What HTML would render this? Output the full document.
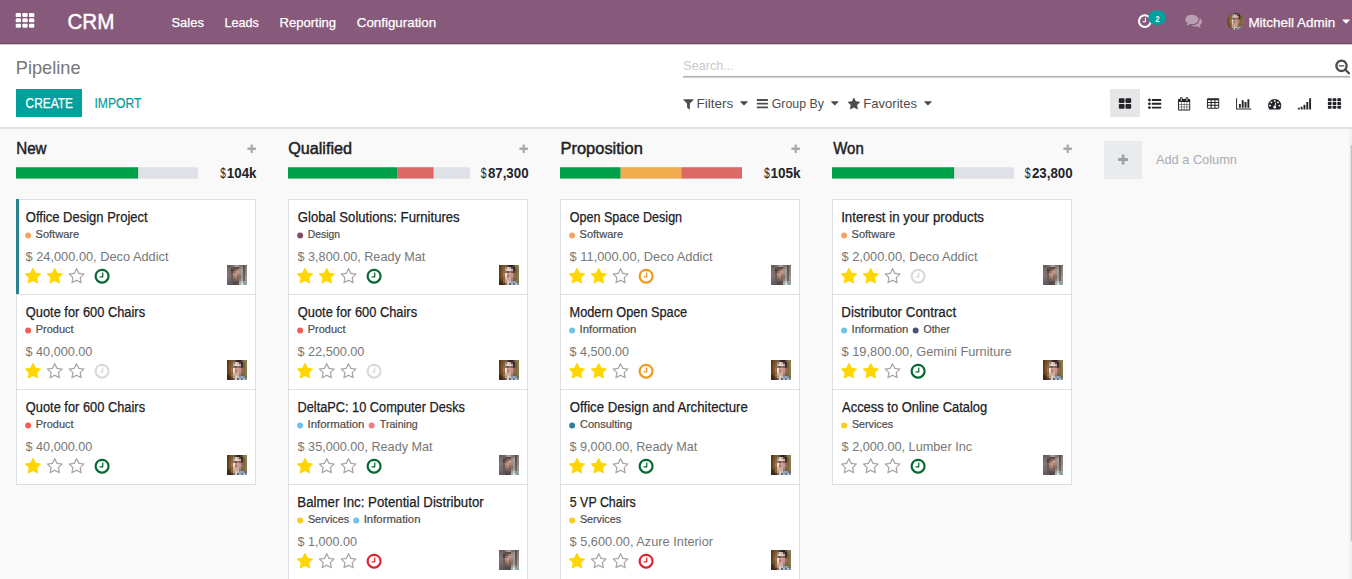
<!DOCTYPE html>
<html lang="en"><head><meta charset="utf-8"><title>Pipeline - Odoo</title>
<style>
html,body{margin:0;padding:0;background:#f9f9f9}
body{width:1352px;height:579px;overflow:hidden;position:relative;background:#f9f9f9;font-family:"Liberation Sans", sans-serif;}
.a{position:absolute;display:block}
.t{position:absolute;display:block;white-space:pre;line-height:normal;transform-origin:0 0}
.av{overflow:hidden}.av svg{position:absolute;display:block}
.card{width:240px;box-sizing:border-box;background:#fff;border:1px solid #dcdfe4}
</style></head>
<body>
<svg width="0" height="0" style="position:absolute"><defs><g id="avA"><rect x="-4" y="-4" width="28" height="28" fill="#80737a"/><rect x="-2" y="-2" width="2.05" height="2.05" fill="#6e5e5c"/><rect x="0" y="-2" width="2.05" height="2.05" fill="#6e5e5c"/><rect x="2" y="-2" width="2.05" height="2.05" fill="#6e5e5c"/><rect x="4" y="-2" width="2.05" height="2.05" fill="#6e5e5c"/><rect x="6" y="-2" width="2.05" height="2.05" fill="#8a7e7c"/><rect x="8" y="-2" width="2.05" height="2.05" fill="#a59a9a"/><rect x="10" y="-2" width="2.05" height="2.05" fill="#a59a9a"/><rect x="12" y="-2" width="2.05" height="2.05" fill="#7d7070"/><rect x="14" y="-2" width="2.05" height="2.05" fill="#7d7070"/><rect x="16" y="-2" width="2.05" height="2.05" fill="#5e5050"/><rect x="18" y="-2" width="2.05" height="2.05" fill="#7a7070"/><rect x="20" y="-2" width="2.05" height="2.05" fill="#7a7070"/><rect x="-2" y="0" width="2.05" height="2.05" fill="#6e5e5c"/><rect x="0" y="0" width="2.05" height="2.05" fill="#6e5e5c"/><rect x="2" y="0" width="2.05" height="2.05" fill="#6e5e5c"/><rect x="4" y="0" width="2.05" height="2.05" fill="#6e5e5c"/><rect x="6" y="0" width="2.05" height="2.05" fill="#8a7e7c"/><rect x="8" y="0" width="2.05" height="2.05" fill="#a59a9a"/><rect x="10" y="0" width="2.05" height="2.05" fill="#a59a9a"/><rect x="12" y="0" width="2.05" height="2.05" fill="#7d7070"/><rect x="14" y="0" width="2.05" height="2.05" fill="#7d7070"/><rect x="16" y="0" width="2.05" height="2.05" fill="#5e5050"/><rect x="18" y="0" width="2.05" height="2.05" fill="#7a7070"/><rect x="20" y="0" width="2.05" height="2.05" fill="#7a7070"/><rect x="-2" y="2" width="2.05" height="2.05" fill="#75686a"/><rect x="0" y="2" width="2.05" height="2.05" fill="#75686a"/><rect x="2" y="2" width="2.05" height="2.05" fill="#75686a"/><rect x="4" y="2" width="2.05" height="2.05" fill="#6a5a58"/><rect x="6" y="2" width="2.05" height="2.05" fill="#5d4c45"/><rect x="8" y="2" width="2.05" height="2.05" fill="#5a4a44"/><rect x="10" y="2" width="2.05" height="2.05" fill="#5d4c45"/><rect x="12" y="2" width="2.05" height="2.05" fill="#8a7e78"/><rect x="14" y="2" width="2.05" height="2.05" fill="#9a9088"/><rect x="16" y="2" width="2.05" height="2.05" fill="#5a4d4d"/><rect x="18" y="2" width="2.05" height="2.05" fill="#8a8080"/><rect x="20" y="2" width="2.05" height="2.05" fill="#8a8080"/><rect x="-2" y="4" width="2.05" height="2.05" fill="#7a6c6e"/><rect x="0" y="4" width="2.05" height="2.05" fill="#7a6c6e"/><rect x="2" y="4" width="2.05" height="2.05" fill="#7a6c6e"/><rect x="4" y="4" width="2.05" height="2.05" fill="#4a3a36"/><rect x="6" y="4" width="2.05" height="2.05" fill="#6a5048"/><rect x="8" y="4" width="2.05" height="2.05" fill="#8a6a5c"/><rect x="10" y="4" width="2.05" height="2.05" fill="#a88070"/><rect x="12" y="4" width="2.05" height="2.05" fill="#9d8f86"/><rect x="14" y="4" width="2.05" height="2.05" fill="#a89e94"/><rect x="16" y="4" width="2.05" height="2.05" fill="#5f5252"/><rect x="18" y="4" width="2.05" height="2.05" fill="#8d8585"/><rect x="20" y="4" width="2.05" height="2.05" fill="#8d8585"/><rect x="-2" y="6" width="2.05" height="2.05" fill="#7d6f72"/><rect x="0" y="6" width="2.05" height="2.05" fill="#7d6f72"/><rect x="2" y="6" width="2.05" height="2.05" fill="#7d6f72"/><rect x="4" y="6" width="2.05" height="2.05" fill="#5a4540"/><rect x="6" y="6" width="2.05" height="2.05" fill="#8a6a60"/><rect x="8" y="6" width="2.05" height="2.05" fill="#b08a7c"/><rect x="10" y="6" width="2.05" height="2.05" fill="#c0a095"/><rect x="12" y="6" width="2.05" height="2.05" fill="#a8988c"/><rect x="14" y="6" width="2.05" height="2.05" fill="#a49a90"/><rect x="16" y="6" width="2.05" height="2.05" fill="#625555"/><rect x="18" y="6" width="2.05" height="2.05" fill="#908888"/><rect x="20" y="6" width="2.05" height="2.05" fill="#908888"/><rect x="-2" y="8" width="2.05" height="2.05" fill="#80737a"/><rect x="0" y="8" width="2.05" height="2.05" fill="#80737a"/><rect x="2" y="8" width="2.05" height="2.05" fill="#80737a"/><rect x="4" y="8" width="2.05" height="2.05" fill="#7a5d55"/><rect x="6" y="8" width="2.05" height="2.05" fill="#b58f80"/><rect x="8" y="8" width="2.05" height="2.05" fill="#c19a88"/><rect x="10" y="8" width="2.05" height="2.05" fill="#a08478"/><rect x="12" y="8" width="2.05" height="2.05" fill="#9a8a7e"/><rect x="14" y="8" width="2.05" height="2.05" fill="#a0968c"/><rect x="16" y="8" width="2.05" height="2.05" fill="#665a5a"/><rect x="18" y="8" width="2.05" height="2.05" fill="#8f8888"/><rect x="20" y="8" width="2.05" height="2.05" fill="#8f8888"/><rect x="-2" y="10" width="2.05" height="2.05" fill="#7c7076"/><rect x="0" y="10" width="2.05" height="2.05" fill="#7c7076"/><rect x="2" y="10" width="2.05" height="2.05" fill="#7c7076"/><rect x="4" y="10" width="2.05" height="2.05" fill="#6f5850"/><rect x="6" y="10" width="2.05" height="2.05" fill="#a8826f"/><rect x="8" y="10" width="2.05" height="2.05" fill="#b48e78"/><rect x="10" y="10" width="2.05" height="2.05" fill="#8f7466"/><rect x="12" y="10" width="2.05" height="2.05" fill="#85786c"/><rect x="14" y="10" width="2.05" height="2.05" fill="#9f968c"/><rect x="16" y="10" width="2.05" height="2.05" fill="#6a5e5e"/><rect x="18" y="10" width="2.05" height="2.05" fill="#9a9090"/><rect x="20" y="10" width="2.05" height="2.05" fill="#9a9090"/><rect x="-2" y="12" width="2.05" height="2.05" fill="#786c72"/><rect x="0" y="12" width="2.05" height="2.05" fill="#786c72"/><rect x="2" y="12" width="2.05" height="2.05" fill="#786c72"/><rect x="4" y="12" width="2.05" height="2.05" fill="#6a5a58"/><rect x="6" y="12" width="2.05" height="2.05" fill="#8d6d5e"/><rect x="8" y="12" width="2.05" height="2.05" fill="#9a7866"/><rect x="10" y="12" width="2.05" height="2.05" fill="#7a6558"/><rect x="12" y="12" width="2.05" height="2.05" fill="#7d7468"/><rect x="14" y="12" width="2.05" height="2.05" fill="#a09890"/><rect x="16" y="12" width="2.05" height="2.05" fill="#6a6060"/><rect x="18" y="12" width="2.05" height="2.05" fill="#a29a9a"/><rect x="20" y="12" width="2.05" height="2.05" fill="#a29a9a"/><rect x="-2" y="14" width="2.05" height="2.05" fill="#74686c"/><rect x="0" y="14" width="2.05" height="2.05" fill="#74686c"/><rect x="2" y="14" width="2.05" height="2.05" fill="#74686c"/><rect x="4" y="14" width="2.05" height="2.05" fill="#685c5c"/><rect x="6" y="14" width="2.05" height="2.05" fill="#6b5850"/><rect x="8" y="14" width="2.05" height="2.05" fill="#7f6656"/><rect x="10" y="14" width="2.05" height="2.05" fill="#6f5f52"/><rect x="12" y="14" width="2.05" height="2.05" fill="#8a8580"/><rect x="14" y="14" width="2.05" height="2.05" fill="#a8a4a0"/><rect x="16" y="14" width="2.05" height="2.05" fill="#70696a"/><rect x="18" y="14" width="2.05" height="2.05" fill="#9a9696"/><rect x="20" y="14" width="2.05" height="2.05" fill="#9a9696"/><rect x="-2" y="16" width="2.05" height="2.05" fill="#6f6468"/><rect x="0" y="16" width="2.05" height="2.05" fill="#6f6468"/><rect x="2" y="16" width="2.05" height="2.05" fill="#665c60"/><rect x="4" y="16" width="2.05" height="2.05" fill="#5d5558"/><rect x="6" y="16" width="2.05" height="2.05" fill="#564d4e"/><rect x="8" y="16" width="2.05" height="2.05" fill="#5a4e48"/><rect x="10" y="16" width="2.05" height="2.05" fill="#5a5048"/><rect x="12" y="16" width="2.05" height="2.05" fill="#a0a09c"/><rect x="14" y="16" width="2.05" height="2.05" fill="#c8c8cc"/><rect x="16" y="16" width="2.05" height="2.05" fill="#8a9090"/><rect x="18" y="16" width="2.05" height="2.05" fill="#9aa8a0"/><rect x="20" y="16" width="2.05" height="2.05" fill="#9aa8a0"/><rect x="-2" y="18" width="2.05" height="2.05" fill="#6a6064"/><rect x="0" y="18" width="2.05" height="2.05" fill="#6a6064"/><rect x="2" y="18" width="2.05" height="2.05" fill="#625a5e"/><rect x="4" y="18" width="2.05" height="2.05" fill="#59535a"/><rect x="6" y="18" width="2.05" height="2.05" fill="#524c50"/><rect x="8" y="18" width="2.05" height="2.05" fill="#4d4648"/><rect x="10" y="18" width="2.05" height="2.05" fill="#57504c"/><rect x="12" y="18" width="2.05" height="2.05" fill="#b4b4b8"/><rect x="14" y="18" width="2.05" height="2.05" fill="#d8d8de"/><rect x="16" y="18" width="2.05" height="2.05" fill="#90b0a8"/><rect x="18" y="18" width="2.05" height="2.05" fill="#7fa890"/><rect x="20" y="18" width="2.05" height="2.05" fill="#7fa890"/><rect x="-2" y="20" width="2.05" height="2.05" fill="#6a6064"/><rect x="0" y="20" width="2.05" height="2.05" fill="#6a6064"/><rect x="2" y="20" width="2.05" height="2.05" fill="#625a5e"/><rect x="4" y="20" width="2.05" height="2.05" fill="#59535a"/><rect x="6" y="20" width="2.05" height="2.05" fill="#524c50"/><rect x="8" y="20" width="2.05" height="2.05" fill="#4d4648"/><rect x="10" y="20" width="2.05" height="2.05" fill="#57504c"/><rect x="12" y="20" width="2.05" height="2.05" fill="#b4b4b8"/><rect x="14" y="20" width="2.05" height="2.05" fill="#d8d8de"/><rect x="16" y="20" width="2.05" height="2.05" fill="#90b0a8"/><rect x="18" y="20" width="2.05" height="2.05" fill="#7fa890"/><rect x="20" y="20" width="2.05" height="2.05" fill="#7fa890"/></g><g id="avB"><rect x="-4" y="-4" width="28" height="28" fill="#7c5c30"/><rect x="-2" y="-2" width="2.05" height="2.05" fill="#5a3a1c"/><rect x="0" y="-2" width="2.05" height="2.05" fill="#5a3a1c"/><rect x="2" y="-2" width="2.05" height="2.05" fill="#6a4a26"/><rect x="4" y="-2" width="2.05" height="2.05" fill="#755830"/><rect x="6" y="-2" width="2.05" height="2.05" fill="#6f5a44"/><rect x="8" y="-2" width="2.05" height="2.05" fill="#4a3c38"/><rect x="10" y="-2" width="2.05" height="2.05" fill="#2e2626"/><rect x="12" y="-2" width="2.05" height="2.05" fill="#2a2222"/><rect x="14" y="-2" width="2.05" height="2.05" fill="#5a4a30"/><rect x="16" y="-2" width="2.05" height="2.05" fill="#8a7448"/><rect x="18" y="-2" width="2.05" height="2.05" fill="#927c50"/><rect x="20" y="-2" width="2.05" height="2.05" fill="#927c50"/><rect x="-2" y="0" width="2.05" height="2.05" fill="#5a3a1c"/><rect x="0" y="0" width="2.05" height="2.05" fill="#5a3a1c"/><rect x="2" y="0" width="2.05" height="2.05" fill="#6a4a26"/><rect x="4" y="0" width="2.05" height="2.05" fill="#755830"/><rect x="6" y="0" width="2.05" height="2.05" fill="#6f5a44"/><rect x="8" y="0" width="2.05" height="2.05" fill="#4a3c38"/><rect x="10" y="0" width="2.05" height="2.05" fill="#2e2626"/><rect x="12" y="0" width="2.05" height="2.05" fill="#2a2222"/><rect x="14" y="0" width="2.05" height="2.05" fill="#5a4a30"/><rect x="16" y="0" width="2.05" height="2.05" fill="#8a7448"/><rect x="18" y="0" width="2.05" height="2.05" fill="#927c50"/><rect x="20" y="0" width="2.05" height="2.05" fill="#927c50"/><rect x="-2" y="2" width="2.05" height="2.05" fill="#5e3c1c"/><rect x="0" y="2" width="2.05" height="2.05" fill="#5e3c1c"/><rect x="2" y="2" width="2.05" height="2.05" fill="#74522a"/><rect x="4" y="2" width="2.05" height="2.05" fill="#7d6038"/><rect x="6" y="2" width="2.05" height="2.05" fill="#9a8478"/><rect x="8" y="2" width="2.05" height="2.05" fill="#d8c4c0"/><rect x="10" y="2" width="2.05" height="2.05" fill="#c9b0aa"/><rect x="12" y="2" width="2.05" height="2.05" fill="#5a4844"/><rect x="14" y="2" width="2.05" height="2.05" fill="#2e2424"/><rect x="16" y="2" width="2.05" height="2.05" fill="#7a6640"/><rect x="18" y="2" width="2.05" height="2.05" fill="#8f7a4e"/><rect x="20" y="2" width="2.05" height="2.05" fill="#8f7a4e"/><rect x="-2" y="4" width="2.05" height="2.05" fill="#60401e"/><rect x="0" y="4" width="2.05" height="2.05" fill="#60401e"/><rect x="2" y="4" width="2.05" height="2.05" fill="#785830"/><rect x="4" y="4" width="2.05" height="2.05" fill="#80683c"/><rect x="6" y="4" width="2.05" height="2.05" fill="#c0aaa0"/><rect x="8" y="4" width="2.05" height="2.05" fill="#ecdcd8"/><rect x="10" y="4" width="2.05" height="2.05" fill="#e0c8c0"/><rect x="12" y="4" width="2.05" height="2.05" fill="#d0b0a4"/><rect x="14" y="4" width="2.05" height="2.05" fill="#3a2c2a"/><rect x="16" y="4" width="2.05" height="2.05" fill="#6f5c3a"/><rect x="18" y="4" width="2.05" height="2.05" fill="#8a764a"/><rect x="20" y="4" width="2.05" height="2.05" fill="#8a764a"/><rect x="-2" y="6" width="2.05" height="2.05" fill="#62401e"/><rect x="0" y="6" width="2.05" height="2.05" fill="#62401e"/><rect x="2" y="6" width="2.05" height="2.05" fill="#7a5a30"/><rect x="4" y="6" width="2.05" height="2.05" fill="#8a6a48"/><rect x="6" y="6" width="2.05" height="2.05" fill="#8a7068"/><rect x="8" y="6" width="2.05" height="2.05" fill="#6a5450"/><rect x="10" y="6" width="2.05" height="2.05" fill="#9a7a70"/><rect x="12" y="6" width="2.05" height="2.05" fill="#7a6058"/><rect x="14" y="6" width="2.05" height="2.05" fill="#4a3a34"/><rect x="16" y="6" width="2.05" height="2.05" fill="#75623c"/><rect x="18" y="6" width="2.05" height="2.05" fill="#8a784c"/><rect x="20" y="6" width="2.05" height="2.05" fill="#8a784c"/><rect x="-2" y="8" width="2.05" height="2.05" fill="#64421e"/><rect x="0" y="8" width="2.05" height="2.05" fill="#64421e"/><rect x="2" y="8" width="2.05" height="2.05" fill="#7c5c30"/><rect x="4" y="8" width="2.05" height="2.05" fill="#b86a40"/><rect x="6" y="8" width="2.05" height="2.05" fill="#e8e0e0"/><rect x="8" y="8" width="2.05" height="2.05" fill="#c49080"/><rect x="10" y="8" width="2.05" height="2.05" fill="#d8a090"/><rect x="12" y="8" width="2.05" height="2.05" fill="#c89888"/><rect x="14" y="8" width="2.05" height="2.05" fill="#a86a54"/><rect x="16" y="8" width="2.05" height="2.05" fill="#7a6840"/><rect x="18" y="8" width="2.05" height="2.05" fill="#8a784c"/><rect x="20" y="8" width="2.05" height="2.05" fill="#8a784c"/><rect x="-2" y="10" width="2.05" height="2.05" fill="#62401e"/><rect x="0" y="10" width="2.05" height="2.05" fill="#62401e"/><rect x="2" y="10" width="2.05" height="2.05" fill="#7a5a30"/><rect x="4" y="10" width="2.05" height="2.05" fill="#a87048"/><rect x="6" y="10" width="2.05" height="2.05" fill="#e0d8d8"/><rect x="8" y="10" width="2.05" height="2.05" fill="#a87868"/><rect x="10" y="10" width="2.05" height="2.05" fill="#d09890"/><rect x="12" y="10" width="2.05" height="2.05" fill="#c89888"/><rect x="14" y="10" width="2.05" height="2.05" fill="#a07060"/><rect x="16" y="10" width="2.05" height="2.05" fill="#7c6a42"/><rect x="18" y="10" width="2.05" height="2.05" fill="#8c7a4e"/><rect x="20" y="10" width="2.05" height="2.05" fill="#8c7a4e"/><rect x="-2" y="12" width="2.05" height="2.05" fill="#5e3e1e"/><rect x="0" y="12" width="2.05" height="2.05" fill="#5e3e1e"/><rect x="2" y="12" width="2.05" height="2.05" fill="#75562e"/><rect x="4" y="12" width="2.05" height="2.05" fill="#8a6038"/><rect x="6" y="12" width="2.05" height="2.05" fill="#d0c0b8"/><rect x="8" y="12" width="2.05" height="2.05" fill="#c8a090"/><rect x="10" y="12" width="2.05" height="2.05" fill="#d8a8a0"/><rect x="12" y="12" width="2.05" height="2.05" fill="#b08a78"/><rect x="14" y="12" width="2.05" height="2.05" fill="#80684a"/><rect x="16" y="12" width="2.05" height="2.05" fill="#806c44"/><rect x="18" y="12" width="2.05" height="2.05" fill="#8a784c"/><rect x="20" y="12" width="2.05" height="2.05" fill="#8a784c"/><rect x="-2" y="14" width="2.05" height="2.05" fill="#4a3018"/><rect x="0" y="14" width="2.05" height="2.05" fill="#4a3018"/><rect x="2" y="14" width="2.05" height="2.05" fill="#5e4424"/><rect x="4" y="14" width="2.05" height="2.05" fill="#a06a3a"/><rect x="6" y="14" width="2.05" height="2.05" fill="#c8a890"/><rect x="8" y="14" width="2.05" height="2.05" fill="#d0b0a0"/><rect x="10" y="14" width="2.05" height="2.05" fill="#d0a8a0"/><rect x="12" y="14" width="2.05" height="2.05" fill="#9a8070"/><rect x="14" y="14" width="2.05" height="2.05" fill="#6f6048"/><rect x="16" y="14" width="2.05" height="2.05" fill="#7a6842"/><rect x="18" y="14" width="2.05" height="2.05" fill="#86744a"/><rect x="20" y="14" width="2.05" height="2.05" fill="#86744a"/><rect x="-2" y="16" width="2.05" height="2.05" fill="#3c2614"/><rect x="0" y="16" width="2.05" height="2.05" fill="#3c2614"/><rect x="2" y="16" width="2.05" height="2.05" fill="#4a341c"/><rect x="4" y="16" width="2.05" height="2.05" fill="#8a5a30"/><rect x="6" y="16" width="2.05" height="2.05" fill="#b89880"/><rect x="8" y="16" width="2.05" height="2.05" fill="#d8c8c0"/><rect x="10" y="16" width="2.05" height="2.05" fill="#c0c0c4"/><rect x="12" y="16" width="2.05" height="2.05" fill="#8a9aa8"/><rect x="14" y="16" width="2.05" height="2.05" fill="#9aaab8"/><rect x="16" y="16" width="2.05" height="2.05" fill="#8a8a80"/><rect x="18" y="16" width="2.05" height="2.05" fill="#7a6a48"/><rect x="20" y="16" width="2.05" height="2.05" fill="#7a6a48"/><rect x="-2" y="18" width="2.05" height="2.05" fill="#38241a"/><rect x="0" y="18" width="2.05" height="2.05" fill="#38241a"/><rect x="2" y="18" width="2.05" height="2.05" fill="#402c1c"/><rect x="4" y="18" width="2.05" height="2.05" fill="#4a3624"/><rect x="6" y="18" width="2.05" height="2.05" fill="#7a6a5c"/><rect x="8" y="18" width="2.05" height="2.05" fill="#d0ccd0"/><rect x="10" y="18" width="2.05" height="2.05" fill="#5a6478"/><rect x="12" y="18" width="2.05" height="2.05" fill="#a8b8c8"/><rect x="14" y="18" width="2.05" height="2.05" fill="#6a7a90"/><rect x="16" y="18" width="2.05" height="2.05" fill="#b0bcc8"/><rect x="18" y="18" width="2.05" height="2.05" fill="#8a9098"/><rect x="20" y="18" width="2.05" height="2.05" fill="#8a9098"/><rect x="-2" y="20" width="2.05" height="2.05" fill="#38241a"/><rect x="0" y="20" width="2.05" height="2.05" fill="#38241a"/><rect x="2" y="20" width="2.05" height="2.05" fill="#402c1c"/><rect x="4" y="20" width="2.05" height="2.05" fill="#4a3624"/><rect x="6" y="20" width="2.05" height="2.05" fill="#7a6a5c"/><rect x="8" y="20" width="2.05" height="2.05" fill="#d0ccd0"/><rect x="10" y="20" width="2.05" height="2.05" fill="#5a6478"/><rect x="12" y="20" width="2.05" height="2.05" fill="#a8b8c8"/><rect x="14" y="20" width="2.05" height="2.05" fill="#6a7a90"/><rect x="16" y="20" width="2.05" height="2.05" fill="#b0bcc8"/><rect x="18" y="20" width="2.05" height="2.05" fill="#8a9098"/><rect x="20" y="20" width="2.05" height="2.05" fill="#8a9098"/></g></defs></svg>
<div class="a" style="left:0px;top:0px;width:1352px;height:44px;background:#875A7B;border-bottom:1px solid #6c4963;box-sizing:border-box;"></div>
<div class="a" style="left:0px;top:44px;width:1352px;height:1px;background:#d9ccd5;"></div>
<div class="a av" style="left:1226.6px;top:12.7px;width:17.2px;height:17.2px;border-radius:50%;"><svg style="left:-1.72px;top:-1.72px;filter:blur(0.75px)" width="20.64" height="20.64" viewBox="-2 -2 24 24"><use href="#avB"/></svg></div>
<div class="a" style="left:0px;top:45px;width:1352px;height:84px;background:#fff;border-bottom:2px solid #e1e1e1;box-sizing:border-box;"></div>
<div class="a" style="left:16px;top:89px;width:66px;height:28px;background:#00A09D;"></div>
<div class="a" style="left:1110px;top:89px;width:30px;height:28px;background:#e6e6e6;"></div>
<div class="a" style="left:0px;top:129px;width:1352px;height:450px;background:#f9f9f9;"></div>
<div class="a" style="left:1349px;top:129px;width:3px;height:450px;background:#f1f1f1;"></div>
<div class="a" style="left:1104px;top:141px;width:38px;height:38px;background:#e9ebef;"></div>
<div class="a card" style="left:16px;top:199px;height:96px"></div>
<div class="a" style="left:16px;top:199px;width:3px;height:96px;background:#27818f;"></div>
<div class="a av" style="left:227px;top:265.3px;width:20px;height:20px;"><svg style="left:-2px;top:-2px;filter:blur(0.7px)" width="24" height="24" viewBox="-2 -2 24 24"><use href="#avA"/></svg></div>
<div class="a card" style="left:16px;top:294px;height:96px"></div>
<div class="a av" style="left:227px;top:360.3px;width:20px;height:20px;"><svg style="left:-2px;top:-2px;filter:blur(0.7px)" width="24" height="24" viewBox="-2 -2 24 24"><use href="#avB"/></svg></div>
<div class="a card" style="left:16px;top:389px;height:96px"></div>
<div class="a av" style="left:227px;top:455.3px;width:20px;height:20px;"><svg style="left:-2px;top:-2px;filter:blur(0.7px)" width="24" height="24" viewBox="-2 -2 24 24"><use href="#avB"/></svg></div>
<div class="a card" style="left:288px;top:199px;height:96px"></div>
<div class="a av" style="left:499px;top:265.3px;width:20px;height:20px;"><svg style="left:-2px;top:-2px;filter:blur(0.7px)" width="24" height="24" viewBox="-2 -2 24 24"><use href="#avB"/></svg></div>
<div class="a card" style="left:288px;top:294px;height:96px"></div>
<div class="a av" style="left:499px;top:360.3px;width:20px;height:20px;"><svg style="left:-2px;top:-2px;filter:blur(0.7px)" width="24" height="24" viewBox="-2 -2 24 24"><use href="#avB"/></svg></div>
<div class="a card" style="left:288px;top:389px;height:96px"></div>
<div class="a av" style="left:499px;top:455.3px;width:20px;height:20px;"><svg style="left:-2px;top:-2px;filter:blur(0.7px)" width="24" height="24" viewBox="-2 -2 24 24"><use href="#avA"/></svg></div>
<div class="a card" style="left:288px;top:484px;height:97px"></div>
<div class="a av" style="left:499px;top:550.3px;width:20px;height:20px;"><svg style="left:-2px;top:-2px;filter:blur(0.7px)" width="24" height="24" viewBox="-2 -2 24 24"><use href="#avA"/></svg></div>
<div class="a card" style="left:560px;top:199px;height:96px"></div>
<div class="a av" style="left:771px;top:265.3px;width:20px;height:20px;"><svg style="left:-2px;top:-2px;filter:blur(0.7px)" width="24" height="24" viewBox="-2 -2 24 24"><use href="#avA"/></svg></div>
<div class="a card" style="left:560px;top:294px;height:96px"></div>
<div class="a av" style="left:771px;top:360.3px;width:20px;height:20px;"><svg style="left:-2px;top:-2px;filter:blur(0.7px)" width="24" height="24" viewBox="-2 -2 24 24"><use href="#avB"/></svg></div>
<div class="a card" style="left:560px;top:389px;height:96px"></div>
<div class="a av" style="left:771px;top:455.3px;width:20px;height:20px;"><svg style="left:-2px;top:-2px;filter:blur(0.7px)" width="24" height="24" viewBox="-2 -2 24 24"><use href="#avB"/></svg></div>
<div class="a card" style="left:560px;top:484px;height:97px"></div>
<div class="a av" style="left:771px;top:550.3px;width:20px;height:20px;"><svg style="left:-2px;top:-2px;filter:blur(0.7px)" width="24" height="24" viewBox="-2 -2 24 24"><use href="#avB"/></svg></div>
<div class="a card" style="left:832px;top:199px;height:96px"></div>
<div class="a av" style="left:1043px;top:265.3px;width:20px;height:20px;"><svg style="left:-2px;top:-2px;filter:blur(0.7px)" width="24" height="24" viewBox="-2 -2 24 24"><use href="#avA"/></svg></div>
<div class="a card" style="left:832px;top:294px;height:96px"></div>
<div class="a av" style="left:1043px;top:360.3px;width:20px;height:20px;"><svg style="left:-2px;top:-2px;filter:blur(0.7px)" width="24" height="24" viewBox="-2 -2 24 24"><use href="#avB"/></svg></div>
<div class="a card" style="left:832px;top:389px;height:96px"></div>
<div class="a av" style="left:1043px;top:455.3px;width:20px;height:20px;"><svg style="left:-2px;top:-2px;filter:blur(0.7px)" width="24" height="24" viewBox="-2 -2 24 24"><use href="#avA"/></svg></div>
<svg class="a" style="left:0;top:0" width="1352" height="579" viewBox="0 0 1352 579"><defs><path id="i-barchart" d="M640 896v512h-256v-512h256zm384-512v1024h-256v-1024h256zm1024 1152v128h-2048v-1536h128v1408h1920zm-640-896v768h-256v-768h256zm384-384v1152h-256v-1152h256z"/><path id="i-bars" d="M1664 1344v128q0 26-19 45t-45 19h-1408q-26 0-45-19t-19-45v-128q0-26 19-45t45-19h1408q26 0 45 19t19 45zm0-512v128q0 26-19 45t-45 19h-1408q-26 0-45-19t-19-45v-128q0-26 19-45t45-19h1408q26 0 45 19t19 45zm0-512v128q0 26-19 45t-45 19h-1408q-26 0-45-19t-19-45v-128q0-26 19-45t45-19h1408q26 0 45 19t19 45z"/><path id="i-calendar" d="M192 1664h288v-288h-288v288zm352 0h320v-288h-320v288zm-352-352h288v-320h-288v320zm352 0h320v-320h-320v320zm-352-384h288v-288h-288v288zm736 736h320v-288h-320v288zm-384-736h320v-288h-320v288zm768 736h288v-288h-288v288zm-384-352h320v-320h-320v320zm-352-864v-288q0-13-9.500-22.500t-22.500-9.500h-64q-13 0-22.500 9.500t-9.500 22.500v288q0 13 9.500 22.500t22.500 9.500h64q13 0 22.500-9.500t9.500-22.500zm736 864h288v-320h-288v320zm-384-384h320v-288h-320v288zm384 0h288v-288h-288v288zm32-480v-288q0-13-9.500-22.500t-22.500-9.500h-64q-13 0-22.500 9.500t-9.500 22.500v288q0 13 9.500 22.500t22.500 9.500h64q13 0 22.500-9.500t9.500-22.500zm384-64v1280q0 52-38 90t-90 38h-1408q-52 0-90-38t-38-90v-1280q0-52 38-90t90-38h128v-96q0-66 47-113t113-47h64q66 0 113 47t47 113v96h384v-96q0-66 47-113t113-47h64q66 0 113 47t47 113v96h128q52 0 90 38t38 90z"/><path id="i-caret" d="M1408 704q0 26-19 45l-448 448q-19 19-45 19t-45-19l-448-448q-19-19-19-45t19-45 45-19h896q26 0 45 19t19 45z"/><path id="i-clock" d="M1024 544v448q0 14-9 23t-23 9h-320q-14 0-23-9t-9-23v-64q0-14 9-23t23-9h224v-352q0-14 9-23t23-9h64q14 0 23 9t9 23zm416 352q0-148-73-273t-198-198-273-73-273 73-198 198-73 273 73 273 198 198 273 73 273-73 198-198 73-273zm224 0q0 209-103 385.500t-279.500 279.500-385.500 103-385.500-103-279.500-279.500-103-385.500 103-385.500 279.500-279.500 385.500-103 385.500 103 279.500 279.500 103 385.500z"/><path id="i-comments" d="M1408 768q0 139-94 257t-256.500 186.500-353.500 68.500q-86 0-176-16-124 88-278 128-36 9-86 16h-3q-11 0-20.500-8t-11.500-21q-1-3-1-6.500t.500-6.500 2-6l2.500-5 3.500-5.500 4-5 4.500-5 4-4.500q5-6 23-25t26-29.500 22.500-29 25-38.500 20.500-44q-124-72-195-177t-71-224q0-139 94-257t256.500-186.500 353.500-68.500 353.500 68.500 256.500 186.500 94 257zm384 256q0 120-71 224.500t-195 176.500q10 24 20.500 44t25 38.500 22.500 29 26 29.500 23 25q1 1 4 4.500t4.500 5 4 5 3.500 5.500l2.500 5 2 6 .500 6.500-1 6.500q-3 14-13 22t-22 7q-50-7-86-16-154-40-278-128-90 16-176 16-271 0-472-132 58 4 88 4 161 0 309-45t264-129q125-92 192-212t67-254q0-77-23-152 129 71 204 178t75 230z"/><path id="i-filter" d="M1595 295q17 41-14 70l-493 493v742q0 42-39 59-13 5-25 5-27 0-45-19l-256-256q-19-19-19-45v-486l-493-493q-31-29-14-70 17-39 59-39h1280q42 0 59 39z"/><path id="i-listul" d="M384 1408q0 80-56 136t-136 56-136-56-56-136 56-136 136-56 136 56 56 136zm0-512q0 80-56 136t-136 56-136-56-56-136 56-136 136-56 136 56 56 136zm1408 416v192q0 13-9.500 22.500t-22.500 9.500h-1216q-13 0-22.500-9.500t-9.500-22.500v-192q0-13 9.500-22.500t22.500-9.500h1216q13 0 22.500 9.500t9.500 22.500zm-1408-928q0 80-56 136t-136 56-136-56-56-136 56-136 136-56 136 56 56 136zm1408 416v192q0 13-9.500 22.500t-22.500 9.500h-1216q-13 0-22.500-9.500t-9.500-22.500v-192q0-13 9.500-22.500t22.500-9.500h1216q13 0 22.500 9.500t9.500 22.500zm0-512v192q0 13-9.500 22.500t-22.500 9.500h-1216q-13 0-22.500-9.500t-9.500-22.500v-192q0-13 9.500-22.500t22.500-9.500h1216q13 0 22.500 9.500t9.500 22.500z"/><path id="i-plus" d="M1600 736v192q0 40-28 68t-68 28h-416v416q0 40-28 68t-68 28h-192q-40 0-68-28t-28-68v-416h-416q-40 0-68-28t-28-68v-192q0-40 28-68t68-28h416v-416q0-40 28-68t68-28h192q40 0 68 28t28 68v416h416q40 0 68 28t28 68z"/><path id="i-searchminus" d="M1088 800v64q0 13-9.500 22.500t-22.500 9.500h-576q-13 0-22.500-9.500t-9.500-22.500v-64q0-13 9.500-22.500t22.500-9.500h576q13 0 22.500 9.500t9.500 22.500zm128 32q0-185-131.500-316.500t-316.500-131.500-316.500 131.500-131.500 316.500 131.500 316.500 316.500 131.500 316.500-131.500 131.500-316.500zm512 832q0 53-37.500 90.500t-90.500 37.500q-54 0-90-38l-343-342q-179 124-399 124-143 0-273.500-55.500t-225-150-150-225-55.500-273.500 55.500-273.500 150-225 225-150 273.500-55.500 273.500 55.500 225 150 150 225 55.500 273.500q0 220-124 399l343 343q37 37 37 90z"/><path id="i-signal" d="M256 1440v192q0 14-9 23t-23 9h-192q-14 0-23-9t-9-23v-192q0-14 9-23t23-9h192q14 0 23 9t9 23zm384-128v320q0 14-9 23t-23 9h-192q-14 0-23-9t-9-23v-320q0-14 9-23t23-9h192q14 0 23 9t9 23zm384-256v576q0 14-9 23t-23 9h-192q-14 0-23-9t-9-23v-576q0-14 9-23t23-9h192q14 0 23 9t9 23zm384-384v960q0 14-9 23t-23 9h-192q-14 0-23-9t-9-23v-960q0-14 9-23t23-9h192q14 0 23 9t9 23zm384-512v1472q0 14-9 23t-23 9h-192q-14 0-23-9t-9-23v-1472q0-14 9-23t23-9h192q14 0 23 9t9 23z"/><path id="i-star" d="M1728 647q0 22-26 48l-363 354 86 500q1 7 1 20 0 21-10.500 35.500t-30.500 14.500q-19 0-40-12l-449-236-449 236q-22 12-40 12-21 0-31.500-14.500t-10.500-35.500q0-6 2-20l86-500-364-354q-25-27-25-48 0-37 56-46l502-73 225-455q19-41 49-41t49 41l225 455 502 73q56 9 56 46z"/><path id="i-staro" d="M1201 1004l306-297-422-62-189-382-189 382-422 62 306 297-73 421 378-199 377 199zm527-357q0 22-26 48l-363 354 86 500q1 7 1 20 0 50-41 50-19 0-40-12l-449-236-449 236q-22 12-40 12-21 0-31.500-14.500t-10.500-35.500q0-6 2-20l86-500-364-354q-25-27-25-48 0-37 56-46l502-73 225-455q19-41 49-41t49 41l225 455 502 73q56 9 56 46z"/><path id="i-table" d="M576 1376v-192q0-14-9-23t-23-9h-320q-14 0-23 9t-9 23v192q0 14 9 23t23 9h320q14 0 23-9t9-23zm0-384v-192q0-14-9-23t-23-9h-320q-14 0-23 9t-9 23v192q0 14 9 23t23 9h320q14 0 23-9t9-23zm512 384v-192q0-14-9-23t-23-9h-320q-14 0-23 9t-9 23v192q0 14 9 23t23 9h320q14 0 23-9t9-23zm-512-768v-192q0-14-9-23t-23-9h-320q-14 0-23 9t-9 23v192q0 14 9 23t23 9h320q14 0 23-9t9-23zm512 384v-192q0-14-9-23t-23-9h-320q-14 0-23 9t-9 23v192q0 14 9 23t23 9h320q14 0 23-9t9-23zm512 384v-192q0-14-9-23t-23-9h-320q-14 0-23 9t-9 23v192q0 14 9 23t23 9h320q14 0 23-9t9-23zm-512-768v-192q0-14-9-23t-23-9h-320q-14 0-23 9t-9 23v192q0 14 9 23t23 9h320q14 0 23-9t9-23zm512 384v-192q0-14-9-23t-23-9h-320q-14 0-23 9t-9 23v192q0 14 9 23t23 9h320q14 0 23-9t9-23zm0-384v-192q0-14-9-23t-23-9h-320q-14 0-23 9t-9 23v192q0 14 9 23t23 9h320q14 0 23-9t9-23zm128-320v1088q0 66-47 113t-113 47h-1344q-66 0-113-47t-47-113v-1088q0-66 47-113t113-47h1344q66 0 113 47t47 113z"/><path id="i-tach" d="M384 1152q0-53-37.500-90.500t-90.500-37.500-90.500 37.500-37.500 90.500 37.500 90.500 90.500 37.500 90.500-37.500 37.500-90.500zm192-448q0-53-37.500-90.500t-90.500-37.500-90.500 37.500-37.500 90.500 37.500 90.500 90.500 37.500 90.500-37.500 37.500-90.500zm428 481l101-382q6-26-7.500-48.500t-38.500-29.500-48 6.500-30 39.500l-101 382q-60 5-107 43.500t-63 98.500q-20 77 20 146t117 89 146-20 89-117q16-60-6-117t-72-91zm660-33q0-53-37.500-90.500t-90.500-37.500-90.500 37.500-37.500 90.500 37.500 90.500 90.500 37.500 90.500-37.500 37.500-90.500zm-640-640q0-53-37.500-90.500t-90.500-37.500-90.500 37.500-37.500 90.500 37.500 90.500 90.500 37.500 90.500-37.500 37.500-90.500zm448 192q0-53-37.500-90.500t-90.500-37.500-90.500 37.500-37.500 90.500 37.500 90.500 90.500 37.500 90.500-37.500 37.500-90.500zm320 448q0 261-141 483-19 29-54 29h-1402q-35 0-54-29-141-221-141-483 0-182 71-348t191-286 286-191 348-71 348 71 286 191 191 286 71 348z"/><path id="i-th" d="M512 1248v192q0 40-28 68t-68 28h-320q-40 0-68-28t-28-68v-192q0-40 28-68t68-28h320q40 0 68 28t28 68zm0-512v192q0 40-28 68t-68 28h-320q-40 0-68-28t-28-68v-192q0-40 28-68t68-28h320q40 0 68 28t28 68zm640 512v192q0 40-28 68t-68 28h-320q-40 0-68-28t-28-68v-192q0-40 28-68t68-28h320q40 0 68 28t28 68zm-640-1024v192q0 40-28 68t-68 28h-320q-40 0-68-28t-28-68v-192q0-40 28-68t68-28h320q40 0 68 28t28 68zm640 512v192q0 40-28 68t-68 28h-320q-40 0-68-28t-28-68v-192q0-40 28-68t68-28h320q40 0 68 28t28 68zm640 512v192q0 40-28 68t-68 28h-320q-40 0-68-28t-28-68v-192q0-40 28-68t68-28h320q40 0 68 28t28 68zm-640-1024v192q0 40-28 68t-68 28h-320q-40 0-68-28t-28-68v-192q0-40 28-68t68-28h320q40 0 68 28t28 68zm640 512v192q0 40-28 68t-68 28h-320q-40 0-68-28t-28-68v-192q0-40 28-68t68-28h320q40 0 68 28t28 68zm0-512v192q0 40-28 68t-68 28h-320q-40 0-68-28t-28-68v-192q0-40 28-68t68-28h320q40 0 68 28t28 68z"/><path id="i-thlarge" d="M832 1024v384q0 52-38 90t-90 38h-512q-52 0-90-38t-38-90v-384q0-52 38-90t90-38h512q52 0 90 38t38 90zm0-768v384q0 52-38 90t-90 38h-512q-52 0-90-38t-38-90v-384q0-52 38-90t90-38h512q52 0 90 38t38 90zm896 768v384q0 52-38 90t-90 38h-512q-52 0-90-38t-38-90v-384q0-52 38-90t90-38h512q52 0 90 38t38 90zm0-768v384q0 52-38 90t-90 38h-512q-52 0-90-38t-38-90v-384q0-52 38-90t90-38h512q52 0 90 38t38 90z"/></defs><use href="#i-th" fill="#fff" transform="translate(15.70 11.71) scale(0.01038)"/><use href="#i-clock" fill="#fff" transform="translate(1136.85 13.15) scale(0.00893)"/><rect x="1148.3" y="10.6" width="17.7" height="14.3" fill="#00A09D" rx="7.15"/><use href="#i-comments" fill="#fff" fill-opacity="0.42" transform="translate(1185.35 12.26) scale(0.00926)"/><use href="#i-caret" fill="#fff" transform="translate(1339.85 14.97) scale(0.00703)"/><rect x="683" y="75.9" width="667" height="1.7" fill="#b4b4b4"/><use href="#i-searchminus" fill="#4c4c4c" transform="translate(1334.65 58.43) scale(0.00893)"/><use href="#i-filter" fill="#4c4c4c" transform="translate(681.95 97.39) scale(0.00725)"/><use href="#i-bars" fill="#4c4c4c" transform="translate(755.90 97.20) scale(0.00725)"/><use href="#i-star" fill="#4c4c4c" transform="translate(847.40 97.51) scale(0.00725)"/><use href="#i-caret" fill="#4c4c4c" transform="translate(737.50 96.67) scale(0.00725)"/><use href="#i-caret" fill="#4c4c4c" transform="translate(828.30 96.67) scale(0.00725)"/><use href="#i-caret" fill="#4c4c4c" transform="translate(921.45 96.67) scale(0.00725)"/><use href="#i-thlarge" fill="#212529" transform="translate(1118.35 97.28) scale(0.00742)"/><use href="#i-listul" fill="#212529" transform="translate(1148.00 97.20) scale(0.00737)"/><use href="#i-calendar" fill="#212529" transform="translate(1177.50 97.20) scale(0.00737)"/><use href="#i-table" fill="#212529" transform="translate(1206.45 97.32) scale(0.00737)"/><use href="#i-barchart" fill="#212529" transform="translate(1236.11 97.30) scale(0.00737)"/><use href="#i-tach" fill="#212529" transform="translate(1268.10 97.18) scale(0.00737)"/><use href="#i-signal" fill="#212529" transform="translate(1297.85 97.30) scale(0.00737)"/><use href="#i-th" fill="#212529" transform="translate(1327.85 97.37) scale(0.00737)"/><rect x="1350.8" y="145" width="1.2" height="396" fill="#c1c1c1"/><use href="#i-plus" fill="#9da1a8" transform="translate(1116.60 153.46) scale(0.00725)"/><use href="#i-plus" fill="#aaa" transform="translate(246.20 143.59) scale(0.00614)"/><rect x="16" y="167.25" width="182" height="11.3" fill="#dee2e6"/><rect x="16" y="167.25" width="122.122" height="11.3" fill="#00A04A"/><circle cx="28.15" cy="235.5" r="3" fill="#F4A460"/><use href="#i-star" fill="#FFD600" transform="translate(24.18 267.57) scale(0.00979)"/><use href="#i-star" fill="#FFD600" transform="translate(45.98 267.57) scale(0.00979)"/><use href="#i-staro" fill="#a8a8a8" transform="translate(67.78 267.57) scale(0.00979)"/><use href="#i-clock" fill="#06692f" transform="translate(93.32 267.43) scale(0.00979)"/><circle cx="28.15" cy="330.5" r="3" fill="#F06050"/><use href="#i-star" fill="#FFD600" transform="translate(24.18 362.57) scale(0.00979)"/><use href="#i-staro" fill="#a8a8a8" transform="translate(45.98 362.57) scale(0.00979)"/><use href="#i-staro" fill="#a8a8a8" transform="translate(67.78 362.57) scale(0.00979)"/><use href="#i-clock" fill="#dadada" transform="translate(93.32 362.43) scale(0.00979)"/><circle cx="28.15" cy="425.5" r="3" fill="#F06050"/><use href="#i-star" fill="#FFD600" transform="translate(24.18 457.57) scale(0.00979)"/><use href="#i-staro" fill="#a8a8a8" transform="translate(45.98 457.57) scale(0.00979)"/><use href="#i-staro" fill="#a8a8a8" transform="translate(67.78 457.57) scale(0.00979)"/><use href="#i-clock" fill="#06692f" transform="translate(93.32 457.43) scale(0.00979)"/><use href="#i-plus" fill="#aaa" transform="translate(518.20 143.59) scale(0.00614)"/><rect x="288" y="167.25" width="182" height="11.3" fill="#dee2e6"/><rect x="288" y="167.25" width="109.2" height="11.3" fill="#00A04A"/><rect x="397.2" y="167.25" width="36.4" height="11.3" fill="#DC6965"/><circle cx="300.15" cy="235.5" r="3" fill="#814968"/><use href="#i-star" fill="#FFD600" transform="translate(296.18 267.57) scale(0.00979)"/><use href="#i-star" fill="#FFD600" transform="translate(317.98 267.57) scale(0.00979)"/><use href="#i-staro" fill="#a8a8a8" transform="translate(339.78 267.57) scale(0.00979)"/><use href="#i-clock" fill="#06692f" transform="translate(365.33 267.43) scale(0.00979)"/><circle cx="300.15" cy="330.5" r="3" fill="#F06050"/><use href="#i-star" fill="#FFD600" transform="translate(296.18 362.57) scale(0.00979)"/><use href="#i-staro" fill="#a8a8a8" transform="translate(317.98 362.57) scale(0.00979)"/><use href="#i-staro" fill="#a8a8a8" transform="translate(339.78 362.57) scale(0.00979)"/><use href="#i-clock" fill="#dadada" transform="translate(365.33 362.43) scale(0.00979)"/><circle cx="300.15" cy="425.5" r="3" fill="#6CC1ED"/><circle cx="371.65" cy="425.5" r="3" fill="#EB7E7F"/><use href="#i-star" fill="#FFD600" transform="translate(296.18 457.57) scale(0.00979)"/><use href="#i-staro" fill="#a8a8a8" transform="translate(317.98 457.57) scale(0.00979)"/><use href="#i-staro" fill="#a8a8a8" transform="translate(339.78 457.57) scale(0.00979)"/><use href="#i-clock" fill="#06692f" transform="translate(365.33 457.43) scale(0.00979)"/><circle cx="300.15" cy="520.5" r="3" fill="#F7CD1F"/><circle cx="356.25" cy="520.5" r="3" fill="#6CC1ED"/><use href="#i-star" fill="#FFD600" transform="translate(296.18 552.57) scale(0.00979)"/><use href="#i-staro" fill="#a8a8a8" transform="translate(317.98 552.57) scale(0.00979)"/><use href="#i-staro" fill="#a8a8a8" transform="translate(339.78 552.57) scale(0.00979)"/><use href="#i-clock" fill="#d7282f" transform="translate(365.33 552.43) scale(0.00979)"/><use href="#i-plus" fill="#aaa" transform="translate(790.20 143.59) scale(0.00614)"/><rect x="560" y="167.25" width="182" height="11.3" fill="#dee2e6"/><rect x="560" y="167.25" width="60.6667" height="11.3" fill="#00A04A"/><rect x="620.667" y="167.25" width="60.6667" height="11.3" fill="#F0AD4E"/><rect x="681.333" y="167.25" width="60.6667" height="11.3" fill="#DC6965"/><circle cx="572.15" cy="235.5" r="3" fill="#F4A460"/><use href="#i-star" fill="#FFD600" transform="translate(568.18 267.57) scale(0.00979)"/><use href="#i-star" fill="#FFD600" transform="translate(589.98 267.57) scale(0.00979)"/><use href="#i-staro" fill="#a8a8a8" transform="translate(611.78 267.57) scale(0.00979)"/><use href="#i-clock" fill="#EF9A1F" transform="translate(637.33 267.43) scale(0.00979)"/><circle cx="572.15" cy="330.5" r="3" fill="#6CC1ED"/><use href="#i-star" fill="#FFD600" transform="translate(568.18 362.57) scale(0.00979)"/><use href="#i-star" fill="#FFD600" transform="translate(589.98 362.57) scale(0.00979)"/><use href="#i-staro" fill="#a8a8a8" transform="translate(611.78 362.57) scale(0.00979)"/><use href="#i-clock" fill="#EF9A1F" transform="translate(637.33 362.43) scale(0.00979)"/><circle cx="572.15" cy="425.5" r="3" fill="#2C8397"/><use href="#i-star" fill="#FFD600" transform="translate(568.18 457.57) scale(0.00979)"/><use href="#i-star" fill="#FFD600" transform="translate(589.98 457.57) scale(0.00979)"/><use href="#i-staro" fill="#a8a8a8" transform="translate(611.78 457.57) scale(0.00979)"/><use href="#i-clock" fill="#06692f" transform="translate(637.33 457.43) scale(0.00979)"/><circle cx="572.15" cy="520.5" r="3" fill="#F7CD1F"/><use href="#i-star" fill="#FFD600" transform="translate(568.18 552.57) scale(0.00979)"/><use href="#i-staro" fill="#a8a8a8" transform="translate(589.98 552.57) scale(0.00979)"/><use href="#i-staro" fill="#a8a8a8" transform="translate(611.78 552.57) scale(0.00979)"/><use href="#i-clock" fill="#d7282f" transform="translate(637.33 552.43) scale(0.00979)"/><use href="#i-plus" fill="#aaa" transform="translate(1062.20 143.59) scale(0.00614)"/><rect x="832" y="167.25" width="182" height="11.3" fill="#dee2e6"/><rect x="832" y="167.25" width="122.122" height="11.3" fill="#00A04A"/><circle cx="844.15" cy="235.5" r="3" fill="#F4A460"/><use href="#i-star" fill="#FFD600" transform="translate(840.18 267.57) scale(0.00979)"/><use href="#i-star" fill="#FFD600" transform="translate(861.98 267.57) scale(0.00979)"/><use href="#i-staro" fill="#a8a8a8" transform="translate(883.78 267.57) scale(0.00979)"/><use href="#i-clock" fill="#dadada" transform="translate(909.33 267.43) scale(0.00979)"/><circle cx="844.15" cy="330.5" r="3" fill="#6CC1ED"/><circle cx="915.65" cy="330.5" r="3" fill="#475577"/><use href="#i-star" fill="#FFD600" transform="translate(840.18 362.57) scale(0.00979)"/><use href="#i-star" fill="#FFD600" transform="translate(861.98 362.57) scale(0.00979)"/><use href="#i-staro" fill="#a8a8a8" transform="translate(883.78 362.57) scale(0.00979)"/><use href="#i-clock" fill="#06692f" transform="translate(909.33 362.43) scale(0.00979)"/><circle cx="844.15" cy="425.5" r="3" fill="#F7CD1F"/><use href="#i-staro" fill="#a8a8a8" transform="translate(840.18 457.57) scale(0.00979)"/><use href="#i-staro" fill="#a8a8a8" transform="translate(861.98 457.57) scale(0.00979)"/><use href="#i-staro" fill="#a8a8a8" transform="translate(883.78 457.57) scale(0.00979)"/><use href="#i-clock" fill="#06692f" transform="translate(909.33 457.43) scale(0.00979)"/></svg>
<span class="t" style="left:67px;top:8.30px;font-size:22.8px;color:#fff;transform:translateX(0.45px) scaleX(0.9054);-webkit-text-stroke:0.45px #fff;">CRM</span>
<span class="t" style="left:171px;top:14.80px;font-size:13.4px;color:#fff;transform:translateX(0.40px) scaleX(0.9705);-webkit-text-stroke:0.25px #fff;">Sales</span>
<span class="t" style="left:224px;top:14.80px;font-size:13.4px;color:#fff;transform:translateX(0.51px) scaleX(0.9419);-webkit-text-stroke:0.25px #fff;">Leads</span>
<span class="t" style="left:279px;top:14.80px;font-size:13.4px;color:#fff;transform:translateX(0.43px) scaleX(0.9769);-webkit-text-stroke:0.25px #fff;">Reporting</span>
<span class="t" style="left:356px;top:14.80px;font-size:13.4px;color:#fff;transform:translateX(0.74px) scaleX(0.9970);-webkit-text-stroke:0.25px #fff;">Configuration</span>
<span class="t" style="left:1248px;top:14.60px;font-size:13.4px;color:#fff;transform:translateX(0.40px) scaleX(1.0051);-webkit-text-stroke:0.25px #fff;">Mitchell Admin</span>
<span class="t" style="left:1155px;top:12.60px;font-size:9.4px;color:#fff;transform:translateX(0.54px) scaleX(0.7618);font-weight:700;">2</span>
<span class="t" style="left:15px;top:58.40px;font-size:18.2px;color:#777;transform:translateX(0.79px) scaleX(0.9999);">Pipeline</span>
<span class="t" style="left:25px;top:95.40px;font-size:14.2px;color:#fff;transform:translateX(0.61px) scaleX(0.8359);-webkit-text-stroke:0.25px #fff;">CREATE</span>
<span class="t" style="left:94px;top:95.40px;font-size:14.2px;color:#00A09D;transform:translateX(0.43px) scaleX(0.8535);-webkit-text-stroke:0.2px #00A09D;">IMPORT</span>
<span class="t" style="left:683px;top:57.70px;font-size:13.3px;color:#c9c9c9;transform:translateX(0.34px) scaleX(0.9448);">Search...</span>
<span class="t" style="left:696px;top:96.40px;font-size:13.4px;color:#4c4c4c;transform:translateX(0.40px) scaleX(1.0112);">Filters</span>
<span class="t" style="left:771px;top:96.40px;font-size:13.4px;color:#4c4c4c;transform:translateX(0.74px) scaleX(0.9207);">Group By</span>
<span class="t" style="left:863px;top:96.40px;font-size:13.4px;color:#4c4c4c;transform:translateX(0.36px) scaleX(0.9739);">Favorites</span>
<span class="t" style="left:1155px;top:152.30px;font-size:13.2px;color:#a8acb3;transform:translateX(0.93px) scaleX(0.9694);">Add a Column</span>
<span class="t" style="left:16px;top:140.40px;font-size:15.6px;color:#1d2124;transform:translateX(0.18px) scaleX(0.9734);-webkit-text-stroke:0.45px #1d2124;">New</span>
<span class="t" style="left:220px;top:165.90px;font-size:13.8px;color:#212529;transform:translateX(0.25px) scaleX(0.7312);">$</span>
<span class="t" style="left:226px;top:164.90px;font-size:14px;color:#212529;transform:translateX(0.84px) scaleX(0.9540);font-weight:700;">104k</span>
<span class="t" style="left:25px;top:209.80px;font-size:13.8px;color:#1d2124;transform:translateX(0.80px) scaleX(0.9419);-webkit-text-stroke:0.25px #1d2124;">Office Design Project</span>
<span class="t" style="left:35px;top:228.40px;font-size:11.2px;color:#4c4c4c;transform:translateX(0.54px) scaleX(0.9868);-webkit-text-stroke:0.2px #4c4c4c;">Software</span>
<span class="t" style="left:25px;top:248.80px;font-size:13.3px;color:#777;transform:translateX(0.53px) scaleX(0.9622);">$ 24,000.00, Deco Addict</span>
<span class="t" style="left:25px;top:304.80px;font-size:13.8px;color:#1d2124;transform:translateX(0.80px) scaleX(0.9311);-webkit-text-stroke:0.25px #1d2124;">Quote for 600 Chairs</span>
<span class="t" style="left:35px;top:323.40px;font-size:11.2px;color:#4c4c4c;transform:translateX(0.67px) scaleX(0.9833);-webkit-text-stroke:0.2px #4c4c4c;">Product</span>
<span class="t" style="left:25px;top:343.80px;font-size:13.3px;color:#777;transform:translateX(0.56px) scaleX(0.9499);">$ 40,000.00</span>
<span class="t" style="left:25px;top:399.80px;font-size:13.8px;color:#1d2124;transform:translateX(0.80px) scaleX(0.9311);-webkit-text-stroke:0.25px #1d2124;">Quote for 600 Chairs</span>
<span class="t" style="left:35px;top:418.40px;font-size:11.2px;color:#4c4c4c;transform:translateX(0.67px) scaleX(0.9833);-webkit-text-stroke:0.2px #4c4c4c;">Product</span>
<span class="t" style="left:25px;top:438.80px;font-size:13.3px;color:#777;transform:translateX(0.56px) scaleX(0.9499);">$ 40,000.00</span>
<span class="t" style="left:288px;top:140.40px;font-size:15.6px;color:#1d2124;transform:translateX(0.14px) scaleX(1.0376);-webkit-text-stroke:0.45px #1d2124;">Qualified</span>
<span class="t" style="left:480px;top:165.90px;font-size:13.8px;color:#212529;transform:translateX(0.83px) scaleX(0.7584);">$</span>
<span class="t" style="left:487px;top:164.90px;font-size:14px;color:#212529;transform:translateX(0.88px) scaleX(0.9496);font-weight:700;">87,300</span>
<span class="t" style="left:297px;top:209.80px;font-size:13.8px;color:#1d2124;transform:translateX(0.78px) scaleX(0.9510);-webkit-text-stroke:0.25px #1d2124;">Global Solutions: Furnitures</span>
<span class="t" style="left:307px;top:228.40px;font-size:11.2px;color:#4c4c4c;transform:translateX(0.83px) scaleX(0.9275);-webkit-text-stroke:0.2px #4c4c4c;">Design</span>
<span class="t" style="left:297px;top:248.80px;font-size:13.3px;color:#777;transform:translateX(0.55px) scaleX(0.9497);">$ 3,800.00, Ready Mat</span>
<span class="t" style="left:297px;top:304.80px;font-size:13.8px;color:#1d2124;transform:translateX(0.80px) scaleX(0.9311);-webkit-text-stroke:0.25px #1d2124;">Quote for 600 Chairs</span>
<span class="t" style="left:307px;top:323.40px;font-size:11.2px;color:#4c4c4c;transform:translateX(0.67px) scaleX(0.9833);-webkit-text-stroke:0.2px #4c4c4c;">Product</span>
<span class="t" style="left:297px;top:343.80px;font-size:13.3px;color:#777;transform:translateX(0.56px) scaleX(0.9499);">$ 22,500.00</span>
<span class="t" style="left:297px;top:399.80px;font-size:13.8px;color:#1d2124;transform:translateX(0.47px) scaleX(0.9255);-webkit-text-stroke:0.25px #1d2124;">DeltaPC: 10 Computer Desks</span>
<span class="t" style="left:307px;top:418.40px;font-size:11.2px;color:#4c4c4c;transform:translateX(0.56px) scaleX(1.0165);-webkit-text-stroke:0.2px #4c4c4c;">Information</span>
<span class="t" style="left:379px;top:418.40px;font-size:11.2px;color:#4c4c4c;transform:translateX(0.80px) scaleX(0.9487);-webkit-text-stroke:0.2px #4c4c4c;">Training</span>
<span class="t" style="left:297px;top:438.80px;font-size:13.3px;color:#777;transform:translateX(0.55px) scaleX(0.9517);">$ 35,000.00, Ready Mat</span>
<span class="t" style="left:297px;top:494.80px;font-size:13.8px;color:#1d2124;transform:translateX(0.32px) scaleX(0.9608);-webkit-text-stroke:0.25px #1d2124;">Balmer Inc: Potential Distributor</span>
<span class="t" style="left:307px;top:513.40px;font-size:11.2px;color:#4c4c4c;transform:translateX(0.89px) scaleX(0.9603);-webkit-text-stroke:0.2px #4c4c4c;">Services</span>
<span class="t" style="left:363px;top:513.40px;font-size:11.2px;color:#4c4c4c;transform:translateX(0.72px) scaleX(1.0136);-webkit-text-stroke:0.2px #4c4c4c;">Information</span>
<span class="t" style="left:297px;top:533.80px;font-size:13.3px;color:#777;transform:translateX(0.55px) scaleX(0.9436);">$ 1,000.00</span>
<span class="t" style="left:560px;top:140.40px;font-size:15.6px;color:#1d2124;transform:translateX(0.47px) scaleX(1.0555);-webkit-text-stroke:0.45px #1d2124;">Proposition</span>
<span class="t" style="left:763px;top:165.90px;font-size:13.8px;color:#212529;transform:translateX(0.93px) scaleX(0.7653);">$</span>
<span class="t" style="left:770px;top:164.90px;font-size:14px;color:#212529;transform:translateX(0.44px) scaleX(0.9692);font-weight:700;">105k</span>
<span class="t" style="left:569px;top:209.80px;font-size:13.8px;color:#1d2124;transform:translateX(0.81px) scaleX(0.9093);-webkit-text-stroke:0.25px #1d2124;">Open Space Design</span>
<span class="t" style="left:579px;top:228.40px;font-size:11.2px;color:#4c4c4c;transform:translateX(0.54px) scaleX(0.9868);-webkit-text-stroke:0.2px #4c4c4c;">Software</span>
<span class="t" style="left:569px;top:248.80px;font-size:13.3px;color:#777;transform:translateX(0.52px) scaleX(0.9685);">$ 11,000.00, Deco Addict</span>
<span class="t" style="left:569px;top:304.80px;font-size:13.8px;color:#1d2124;transform:translateX(0.52px) scaleX(0.9240);-webkit-text-stroke:0.25px #1d2124;">Modern Open Space</span>
<span class="t" style="left:579px;top:323.40px;font-size:11.2px;color:#4c4c4c;transform:translateX(0.56px) scaleX(1.0165);-webkit-text-stroke:0.2px #4c4c4c;">Information</span>
<span class="t" style="left:569px;top:343.80px;font-size:13.3px;color:#777;transform:translateX(0.55px) scaleX(0.9436);">$ 4,500.00</span>
<span class="t" style="left:569px;top:399.80px;font-size:13.8px;color:#1d2124;transform:translateX(0.80px) scaleX(0.9566);-webkit-text-stroke:0.25px #1d2124;">Office Design and Architecture</span>
<span class="t" style="left:579px;top:418.40px;font-size:11.2px;color:#4c4c4c;transform:translateX(0.92px) scaleX(0.9865);-webkit-text-stroke:0.2px #4c4c4c;">Consulting</span>
<span class="t" style="left:569px;top:438.80px;font-size:13.3px;color:#777;transform:translateX(0.55px) scaleX(0.9497);">$ 9,000.00, Ready Mat</span>
<span class="t" style="left:569px;top:494.80px;font-size:13.8px;color:#1d2124;transform:translateX(0.76px) scaleX(0.8999);-webkit-text-stroke:0.25px #1d2124;">5 VP Chairs</span>
<span class="t" style="left:579px;top:513.40px;font-size:11.2px;color:#4c4c4c;transform:translateX(0.89px) scaleX(0.9603);-webkit-text-stroke:0.2px #4c4c4c;">Services</span>
<span class="t" style="left:569px;top:533.80px;font-size:13.3px;color:#777;transform:translateX(0.53px) scaleX(0.9612);">$ 5,600.00, Azure Interior</span>
<span class="t" style="left:833px;top:140.40px;font-size:15.6px;color:#1d2124;transform:translateX(0.20px) scaleX(0.9611);-webkit-text-stroke:0.45px #1d2124;">Won</span>
<span class="t" style="left:1024px;top:165.90px;font-size:13.8px;color:#212529;transform:translateX(0.83px) scaleX(0.7584);">$</span>
<span class="t" style="left:1031px;top:164.90px;font-size:14px;color:#212529;transform:translateX(0.93px) scaleX(0.9487);font-weight:700;">23,800</span>
<span class="t" style="left:841px;top:209.80px;font-size:13.8px;color:#1d2124;transform:translateX(0.16px) scaleX(0.9650);-webkit-text-stroke:0.25px #1d2124;">Interest in your products</span>
<span class="t" style="left:851px;top:228.40px;font-size:11.2px;color:#4c4c4c;transform:translateX(0.54px) scaleX(0.9868);-webkit-text-stroke:0.2px #4c4c4c;">Software</span>
<span class="t" style="left:841px;top:248.80px;font-size:13.3px;color:#777;transform:translateX(0.54px) scaleX(0.9630);">$ 2,000.00, Deco Addict</span>
<span class="t" style="left:841px;top:304.80px;font-size:13.8px;color:#1d2124;transform:translateX(0.34px) scaleX(0.9658);-webkit-text-stroke:0.25px #1d2124;">Distributor Contract</span>
<span class="t" style="left:851px;top:323.40px;font-size:11.2px;color:#4c4c4c;transform:translateX(0.56px) scaleX(1.0165);-webkit-text-stroke:0.2px #4c4c4c;">Information</span>
<span class="t" style="left:923px;top:323.40px;font-size:11.2px;color:#4c4c4c;transform:translateX(0.52px) scaleX(0.9352);-webkit-text-stroke:0.2px #4c4c4c;">Other</span>
<span class="t" style="left:841px;top:343.80px;font-size:13.3px;color:#777;transform:translateX(0.53px) scaleX(0.9630);">$ 19,800.00, Gemini Furniture</span>
<span class="t" style="left:842px;top:399.80px;font-size:13.8px;color:#1d2124;transform:translateX(0.08px) scaleX(0.9367);-webkit-text-stroke:0.25px #1d2124;">Access to Online Catalog</span>
<span class="t" style="left:851px;top:418.40px;font-size:11.2px;color:#4c4c4c;transform:translateX(0.89px) scaleX(0.9603);-webkit-text-stroke:0.2px #4c4c4c;">Services</span>
<span class="t" style="left:841px;top:438.80px;font-size:13.3px;color:#777;transform:translateX(0.54px) scaleX(0.9547);">$ 2,000.00, Lumber Inc</span>
</body></html>
